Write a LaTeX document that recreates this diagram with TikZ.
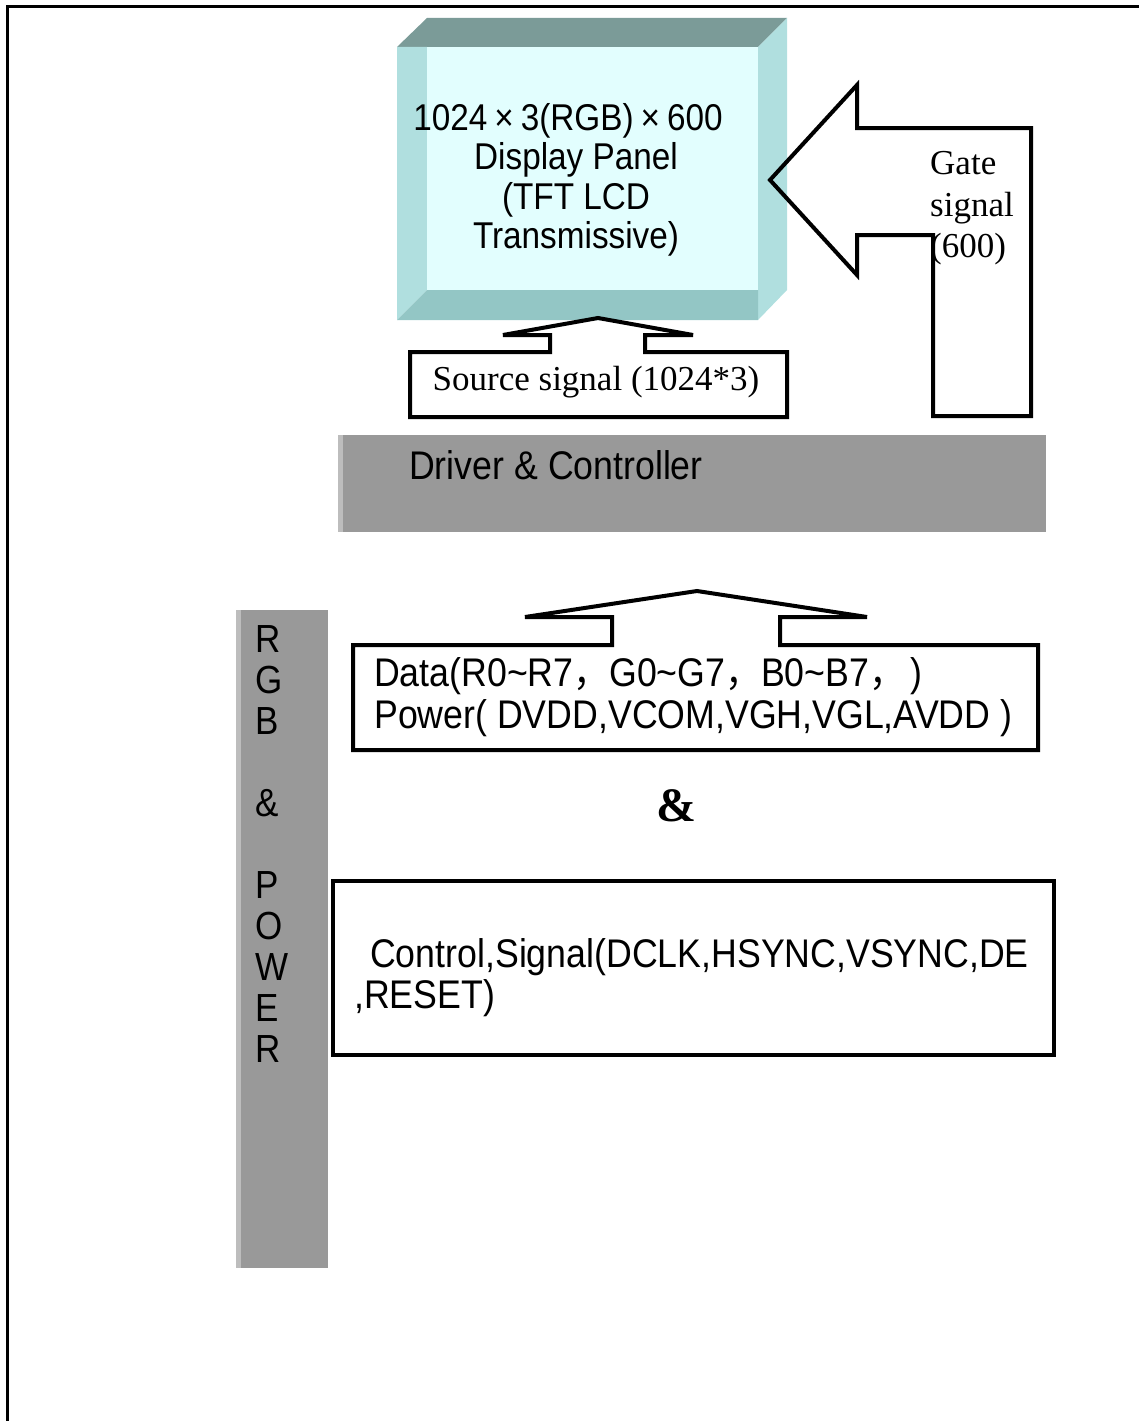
\documentclass[tikz,border=0pt]{standalone}
\usepackage{fontspec}
\setmainfont{Liberation Sans}
\newfontfamily\tnr{Liberation Serif}
\newfontfamily\cjk{Noto Sans CJK SC}
\definecolor{bevtop}{HTML}{7B9B98}
\definecolor{bevside}{HTML}{B0DFDF}
\definecolor{bevface}{HTML}{E2FEFE}
\definecolor{bevbot}{HTML}{93C6C5}
\definecolor{bargray}{HTML}{999999}
\definecolor{barlight}{HTML}{BDBDBD}
\tikzset{
  blockarrow/.style={draw=black, line width=4pt, line join=miter},
  sanstxt/.style={inner sep=0pt, yscale=1.12, transform shape},
  seriftxt/.style={inner sep=0pt, font=\tnr\fontsize{35}{41.5}\selectfont},
}
\begin{document}
\begin{tikzpicture}[x=1pt,y=-1pt]
\useasboundingbox (0,0) rectangle (1139,1421);
% page frame
\draw[line width=3pt] (7,1430) -- (7,7) -- (1145,7);
% display panel (bevel)
\fill[bevtop] (397,47) -- (427,18) -- (787,18) -- (758,47) -- cycle;
\fill[bevside] (397,47) -- (427,47) -- (427,290) -- (397,320) -- cycle;
\fill[bevside] (758,47) -- (787,18) -- (787,290) -- (758,320) -- cycle;
\fill[bevbot] (397,320) -- (427,290) -- (758,290) -- (758,320) -- cycle;
\fill[bevface] (427,47) rectangle (758,290);
\node[sanstxt, align=center, font=\fontsize{33.3}{35.1}\selectfont] (panel) at (576,180)
  {1024\hspace{7pt}×\hspace{7pt}3(RGB)\hspace{7pt}×\hspace{7pt}600\hspace*{16pt}\\Display Panel\\(TFT LCD\\Transmissive)};
% gate signal arrow
\draw[blockarrow] (770,180) -- (857,85) -- (857,128) -- (1031,128) -- (1031,416)
  -- (933,416) -- (933,235) -- (857,235) -- (857,275) -- cycle;
\node[seriftxt, anchor=west, align=left] (gate) at (930,208.5) {Gate\\signal\\(600)};
% source signal arrow
\draw[blockarrow] (410,352) -- (550,352) -- (550,335) -- (503,335) -- (598,318)
  -- (693,335) -- (645,335) -- (645,352) -- (787,352) -- (787,417) -- (410,417) -- cycle;
\node[seriftxt] (source) at (596,382) {Source signal (1024*3)};
% driver & controller bar
\fill[bargray] (338,435) rectangle (1046,532);
\fill[barlight] (338,435) rectangle (343,532);
\node[sanstxt, anchor=west, font=\fontsize{35.7}{40}\selectfont] (driver) at (409,465) {Driver \& Controller};
% RGB & POWER bar
\fill[bargray] (236,610) rectangle (328,1268);
\fill[barlight] (236,610) rectangle (241,1268);
\node[sanstxt, anchor=west, align=left, font=\fontsize{35}{36.6}\selectfont] (rgbp) at (255,844)
  {R\\G\\B\\\mbox{}\\\&\\\mbox{}\\P\\O\\W\\E\\R};
% data / power arrow
\draw[blockarrow] (353,645) -- (612,645) -- (612,617) -- (525,617) -- (697,591)
  -- (867,617) -- (780,617) -- (780,645) -- (1038,645) -- (1038,750) -- (353,750) -- cycle;
\node[sanstxt, anchor=west, align=left, font=\fontsize{35.7}{37.5}\selectfont] (data) at (374,697)
  {Data(R0\textasciitilde R7{\cjk ，}G0\textasciitilde G7{\cjk ，}B0\textasciitilde B7{\cjk ，}\,)\\Power( DVDD,VCOM,VGH,VGL,AVDD )};
\node[inner sep=0pt, font=\tnr\bfseries\fontsize{48}{50}\selectfont] (amp) at (676,806) {\&};
% control box
\draw[line width=4pt] (333,881) rectangle (1054,1055);
\node[sanstxt, anchor=west, align=left, font=\fontsize{35.7}{36.6}\selectfont] (ctrl) at (354,978)
  {\hspace*{16pt}Control,Signal(DCLK,HSYNC,VSYNC,DE\\,RESET)};
\end{tikzpicture}
\end{document}
